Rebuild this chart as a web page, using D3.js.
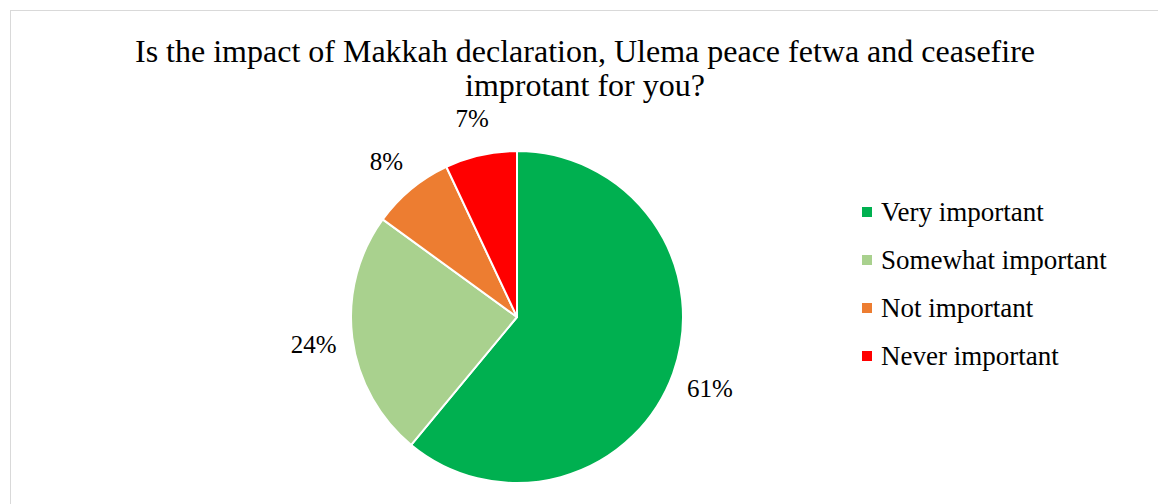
<!DOCTYPE html>
<html>
<head>
<meta charset="utf-8">
<script src="https://cdn.jsdelivr.net/npm/d3@7"></script>
<style>
  html, body { margin: 0; padding: 0; background: #fff; }
  svg { display: block; }
  text { font-family: "Liberation Serif", "Times New Roman", serif; fill: #000; }
</style>
</head>
<body>
<svg id="chart" width="1158" height="504"></svg>
<script>
// Survey answers and their shares (percent)
const categories = ["Very important", "Somewhat important", "Not important", "Never important"];
const values = [61, 24, 8, 7];
const colors = ["#00b050", "#a9d18e", "#ed7d31", "#ff0000"];
const titleLines = [
  "Is the impact of Makkah declaration, Ulema peace fetwa and ceasefire",
  "improtant for you?"
];

const svg = d3.select("#chart");
const W = 1158, H = 504;

// chart area frame
svg.append("rect")
  .attr("x", 10.5).attr("y", 10.5)
  .attr("width", W + 20).attr("height", H + 20)
  .attr("fill", "none").attr("stroke", "#d9d9d9").attr("stroke-width", 1);

// title
svg.append("g").selectAll("text").data(titleLines).join("text")
  .attr("x", 585).attr("y", (d, i) => 62 + i * 34)
  .attr("text-anchor", "middle")
  .style("font-size", "32px")
  .text(d => d);

// pie
const cx = 517, cy = 317, r = 166;
const pie = d3.pie().sort(null).value(d => d.value);
const data = categories.map((c, i) => ({ name: c, value: values[i], color: colors[i] }));
const arcs = pie(data);
const arc = d3.arc().innerRadius(0).outerRadius(r);
const labelArc = d3.arc().innerRadius(r + 39).outerRadius(r + 39);

const g = svg.append("g").attr("transform", `translate(${cx},${cy})`);
g.selectAll("path").data(arcs).join("path")
  .attr("d", arc)
  .attr("fill", d => d.data.color)
  .attr("stroke", "#fff").attr("stroke-width", 2).attr("stroke-linejoin", "round");

g.selectAll("text.lbl").data(arcs).join("text")
  .attr("class", "lbl")
  .attr("transform", d => `translate(${labelArc.centroid(d)})`)
  .attr("text-anchor", "middle")
  .attr("dy", "0.42em")
  .style("font-size", "25px")
  .text(d => d.data.value + "%");

// legend
const legendY = d3.scalePoint().domain(categories).range([212, 356]);
const lg = svg.append("g");
const items = lg.selectAll("g").data(data).join("g")
  .attr("transform", d => `translate(862,${legendY(d.name)})`);
items.append("rect")
  .attr("x", 0).attr("y", -5).attr("width", 10).attr("height", 10)
  .attr("fill", d => d.color);
items.append("text")
  .attr("x", 19).attr("dy", "0.35em")
  .style("font-size", "27px")
  .text(d => d.name);
</script>
</body>
</html>
